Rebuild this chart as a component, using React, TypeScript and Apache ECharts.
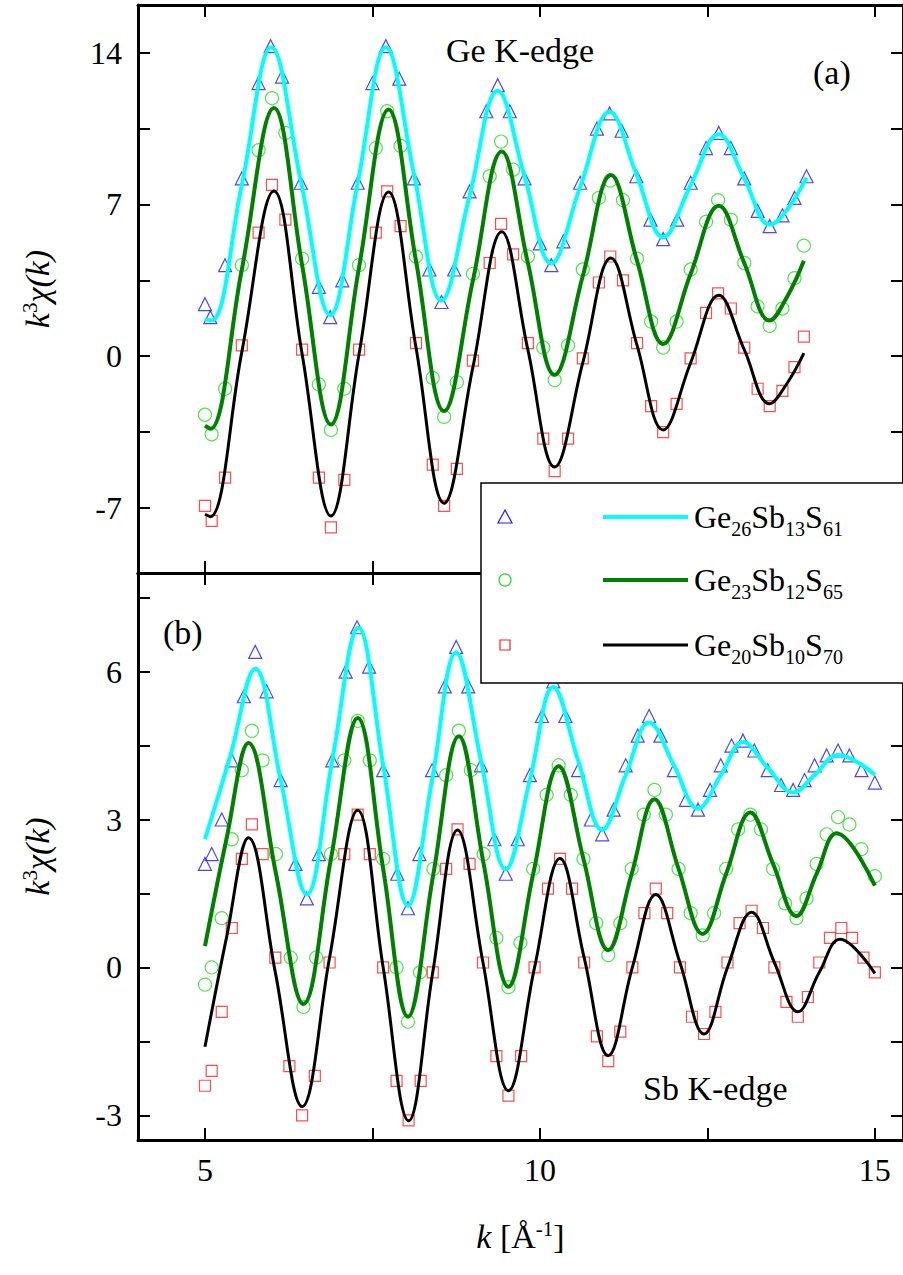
import * as echarts from 'echarts';
import { useEffect, useRef } from 'react';

type Pt = [number, number];

// k ticks
const kTicks = [5, 7.5, 10, 12.5, 15];
const kLabels = [5, 10, 15];
const topTicks = [-7, -3.5, 0, 3.5, 7, 10.5, 14];
const topLabels = [-7, 0, 7, 14];
const botTicks = [-3, -1.5, 0, 1.5, 3, 4.5, 6, 7.5];
const botLabels = [-3, 0, 3, 6];

const names = ['Ge26Sb13S61', 'Ge23Sb12S65', 'Ge20Sb10S70'];

// (a) Ge K-edge
const geFit26: Pt[] = [[5.0,1.7],[5.1,1.65],[5.55,7.9],[5.99,14.25],[6.43,8.1],[6.87,1.9],[7.28,8.0],[7.70,14.25],[8.12,8.4],[8.53,2.56],[8.95,7.4],[9.37,12.25],[9.77,8.3],[10.17,4.28],[10.6,7.8],[11.04,11.28],[11.44,8.4],[11.84,5.49],[12.25,7.9],[12.67,10.24],[13.05,8.2],[13.43,6.07],[13.98,8.24]];
const geExp26: Pt[] = [[5.0,2.4],[5.08,1.8],[5.3,4.2],[5.55,8.2],[5.8,12.6],[5.98,14.3],[6.15,12.9],[6.43,8.0],[6.7,3.2],[6.87,1.8],[7.05,3.5],[7.28,8.0],[7.5,12.6],[7.70,14.3],[7.9,12.8],[8.12,8.2],[8.35,4.0],[8.53,2.5],[8.72,4.0],[8.95,7.6],[9.2,11.3],[9.37,12.5],[9.55,11.3],[9.77,8.2],[10.0,5.2],[10.17,4.2],[10.35,5.3],[10.6,8.0],[10.85,10.5],[11.04,11.2],[11.22,10.4],[11.44,8.3],[11.65,6.3],[11.84,5.4],[12.05,6.3],[12.25,8.0],[12.48,9.6],[12.67,10.3],[12.85,9.6],[13.05,8.2],[13.25,6.7],[13.43,6.0],[13.62,6.5],[13.8,7.3],[13.98,8.3]];
const geFit23: Pt[] = [[5.0,-3.2],[5.08,-3.35],[5.55,4.0],[6.03,11.45],[6.45,4.2],[6.88,-3.15],[7.3,4.1],[7.74,11.38],[8.15,4.4],[8.57,-2.53],[9.0,3.5],[9.43,9.44],[9.82,4.3],[10.22,-0.86],[10.64,3.7],[11.06,8.36],[11.45,4.4],[11.84,0.56],[12.25,3.8],[12.67,6.94],[13.05,4.3],[13.43,1.65],[13.7,2.8],[13.94,4.4]];
const geExp23: Pt[] = [[5.0,-2.7],[5.1,-3.6],[5.3,-1.5],[5.55,4.2],[5.8,9.5],[6.0,11.9],[6.2,10.3],[6.45,4.5],[6.7,-1.3],[6.88,-3.4],[7.08,-1.5],[7.3,4.2],[7.55,9.6],[7.72,11.3],[7.92,9.7],[8.15,4.6],[8.4,-1.0],[8.57,-2.8],[8.76,-1.2],[9.0,3.8],[9.25,8.3],[9.42,9.9],[9.6,8.6],[9.82,4.6],[10.05,0.4],[10.22,-1.1],[10.42,0.5],[10.64,4.0],[10.88,7.3],[11.05,8.1],[11.24,7.2],[11.45,4.5],[11.66,1.6],[11.84,0.4],[12.04,1.6],[12.25,4.0],[12.48,6.2],[12.66,7.2],[12.85,6.3],[13.05,4.3],[13.25,2.3],[13.43,1.4],[13.62,2.2],[13.8,3.6],[13.94,5.1]];
const geFit20: Pt[] = [[5.0,-7.29],[5.08,-7.4],[5.55,0.2],[6.03,7.62],[6.45,0.1],[6.88,-7.37],[7.3,0.1],[7.74,7.57],[8.15,0.4],[8.57,-6.78],[9.0,-0.5],[9.43,5.74],[9.82,0.3],[10.22,-5.11],[10.64,-0.3],[11.06,4.53],[11.45,0.5],[11.84,-3.4],[12.25,-0.3],[12.67,2.81],[13.05,0.3],[13.43,-2.19],[13.7,-1.2],[13.94,0.14]];
const geExp20: Pt[] = [[5.0,-6.9],[5.1,-7.6],[5.3,-5.6],[5.55,0.5],[5.8,5.7],[6.0,7.9],[6.2,6.3],[6.45,0.3],[6.7,-5.6],[6.88,-7.9],[7.08,-5.7],[7.3,0.3],[7.55,5.7],[7.72,7.6],[7.92,6.0],[8.15,0.6],[8.4,-5.0],[8.57,-6.9],[8.76,-5.2],[9.0,-0.2],[9.25,4.3],[9.42,6.1],[9.6,4.7],[9.82,0.6],[10.05,-3.8],[10.22,-5.3],[10.42,-3.8],[10.64,-0.1],[10.88,3.4],[11.05,4.6],[11.24,3.5],[11.45,0.6],[11.66,-2.3],[11.84,-3.5],[12.04,-2.2],[12.25,-0.1],[12.48,2.0],[12.66,2.9],[12.85,2.2],[13.05,0.4],[13.25,-1.5],[13.43,-2.3],[13.62,-1.6],[13.8,-0.5],[13.94,0.9]];

// (b) Sb K-edge
const sbFit26: Pt[] = [[5.0,2.6],[5.38,4.3],[5.75,6.06],[6.13,3.8],[6.52,1.48],[6.9,4.2],[7.29,6.89],[7.66,4.1],[8.03,1.25],[8.39,3.8],[8.75,6.39],[9.12,4.2],[9.49,1.99],[9.85,3.8],[10.2,5.69],[10.57,4.2],[10.93,2.79],[11.28,3.9],[11.63,4.97],[12.0,4.1],[12.36,3.22],[12.7,3.9],[13.03,4.57],[13.4,4.05],[13.78,3.55],[14.1,3.9],[14.45,4.31],[15.0,3.91]];
const sbExp26: Pt[] = [[5.0,2.1],[5.1,2.3],[5.25,3.0],[5.4,4.2],[5.58,5.5],[5.75,6.4],[5.92,5.6],[6.13,3.8],[6.35,2.1],[6.52,1.4],[6.7,2.3],[6.9,4.2],[7.1,6.0],[7.27,6.9],[7.45,6.1],[7.66,4.0],[7.87,1.9],[8.03,1.2],[8.2,2.3],[8.39,4.0],[8.58,5.7],[8.75,6.5],[8.93,5.7],[9.12,4.1],[9.32,2.6],[9.49,1.9],[9.67,2.6],[9.85,3.9],[10.03,5.1],[10.2,5.8],[10.38,5.1],[10.57,4.0],[10.76,3.0],[10.93,2.7],[11.1,3.2],[11.28,4.1],[11.46,4.7],[11.63,5.1],[11.8,4.7],[12.0,4.0],[12.18,3.4],[12.36,3.2],[12.54,3.6],[12.7,4.1],[12.86,4.5],[13.03,4.6],[13.2,4.4],[13.4,4.0],[13.6,3.7],[13.78,3.6],[13.95,3.8],[14.1,4.1],[14.28,4.3],[14.45,4.4],[14.62,4.3],[14.8,4.0],[15.0,3.75]];
const sbFit23: Pt[] = [[5.0,0.43],[5.32,2.6],[5.65,4.55],[6.06,1.9],[6.47,-0.74],[6.88,2.2],[7.28,5.06],[7.66,2.0],[8.03,-1.0],[8.41,1.9],[8.79,4.69],[9.16,2.1],[9.53,-0.39],[9.9,1.9],[10.28,4.08],[10.65,2.2],[11.02,0.35],[11.37,1.9],[11.71,3.41],[12.07,2.0],[12.43,0.68],[12.78,1.9],[13.14,3.14],[13.48,2.1],[13.83,1.04],[14.13,1.9],[14.43,2.72],[15.0,1.66]];
const sbExp23: Pt[] = [[5.0,-0.35],[5.1,0.0],[5.25,1.0],[5.4,2.6],[5.55,4.0],[5.7,4.8],[5.86,4.2],[6.06,2.3],[6.28,0.2],[6.47,-0.8],[6.66,0.2],[6.88,2.3],[7.08,4.2],[7.28,5.0],[7.46,4.2],[7.66,2.2],[7.86,0.0],[8.03,-1.1],[8.21,-0.1],[8.41,2.0],[8.6,3.9],[8.79,4.8],[8.97,4.0],[9.16,2.3],[9.35,0.6],[9.53,-0.4],[9.71,0.5],[9.9,2.0],[10.1,3.5],[10.28,4.1],[10.46,3.5],[10.65,2.2],[10.84,0.9],[11.02,0.25],[11.2,0.9],[11.37,2.0],[11.55,3.1],[11.71,3.6],[11.88,3.1],[12.07,2.0],[12.25,1.1],[12.43,0.65],[12.6,1.1],[12.78,2.0],[12.96,2.8],[13.14,3.1],[13.3,2.8],[13.48,2.0],[13.66,1.3],[13.83,1.0],[13.98,1.4],[14.13,2.1],[14.28,2.7],[14.45,3.05],[14.62,2.9],[14.8,2.4],[15.0,1.85]];
const sbFit20: Pt[] = [[5.0,-1.61],[5.32,0.6],[5.65,2.63],[6.05,-0.1],[6.45,-2.82],[6.86,0.2],[7.28,3.19],[7.66,0.0],[8.04,-3.11],[8.4,-0.1],[8.77,2.79],[9.15,0.1],[9.53,-2.5],[9.92,0.0],[10.3,2.21],[10.66,0.2],[11.02,-1.79],[11.38,0.0],[11.73,1.48],[12.09,0.1],[12.45,-1.35],[12.8,0.0],[13.16,1.12],[13.5,0.1],[13.85,-0.9],[14.17,-0.1],[14.48,0.57],[15.0,-0.12]];
const sbExp20: Pt[] = [[5.0,-2.4],[5.1,-2.1],[5.25,-0.9],[5.4,0.8],[5.55,2.2],[5.7,2.9],[5.86,2.3],[6.05,0.2],[6.26,-2.0],[6.45,-3.0],[6.64,-2.2],[6.86,0.1],[7.08,2.3],[7.28,3.1],[7.46,2.3],[7.66,0.0],[7.86,-2.3],[8.04,-3.1],[8.22,-2.3],[8.4,-0.1],[8.6,2.0],[8.77,2.8],[8.95,2.1],[9.15,0.1],[9.35,-1.8],[9.53,-2.6],[9.72,-1.8],[9.92,0.0],[10.12,1.6],[10.3,2.2],[10.48,1.6],[10.66,0.1],[10.85,-1.4],[11.02,-1.9],[11.2,-1.3],[11.38,0.0],[11.56,1.1],[11.73,1.6],[11.9,1.1],[12.09,0.0],[12.27,-1.0],[12.45,-1.35],[12.62,-0.9],[12.8,0.1],[12.98,0.9],[13.16,1.15],[13.33,0.8],[13.5,0.0],[13.68,-0.7],[13.85,-1.0],[14.0,-0.6],[14.17,0.1],[14.33,0.6],[14.5,0.8],[14.66,0.6],[14.83,0.2],[15.0,-0.1]];

const FONT = 'serif';
const markStyle = [
  { symbol: 'triangle', color: '#1a1aff', size: 13 },
  { symbol: 'circle', color: '#22dd22', size: 13 },
  { symbol: 'rect', color: '#ff2020', size: 11 },
];
const lineColors = ['#00ffff', '#008000', '#000000'];

const kAxis = (grid: number, pos: 'top' | 'bottom', labels: boolean) => ({
  type: 'value', gridIndex: grid, position: pos, min: 4, max: 15.42,
  axisLine: { show: true, onZero: false, lineStyle: { color: '#000', width: 3 } },
  axisTick: { show: true, inside: true, length: 12, lineStyle: { width: 2, color: '#000' }, customValues: kTicks },
  axisLabel: { show: labels, fontFamily: FONT, fontSize: 32, color: '#000', margin: 14, customValues: kLabels },
  splitLine: { show: false },
  ...(labels && grid === 1 ? {
    name: '{i|k} [Å{s|-1}]', nameLocation: 'middle', nameGap: 78,
    nameTextStyle: { fontFamily: FONT, fontSize: 34, color: '#000', rich: {
      i: { fontFamily: FONT, fontSize: 34, fontStyle: 'italic' },
      s: { fontFamily: FONT, fontSize: 21, padding: [0, 0, 16, 0] } } },
  } : {}),
});

const yAxis = (grid: number, pos: 'left' | 'right', min: number, max: number, ticks: number[], labels: number[]) => ({
  type: 'value', gridIndex: grid, position: pos, min, max,
  axisLine: { show: true, onZero: false, lineStyle: { color: '#000', width: 3 } },
  axisTick: { show: true, inside: true, length: 12, lineStyle: { width: 2, color: '#000' }, customValues: ticks },
  axisLabel: { show: pos === 'left', fontFamily: FONT, fontSize: 32, color: '#000', margin: 16, customValues: labels },
  splitLine: { show: false },
  ...(pos === 'left' ? {
    name: '{i|k}{s|3}{i|χ(k)}', nameLocation: 'middle', nameGap: 82, nameRotate: 90,
    nameTextStyle: { fontFamily: FONT, fontSize: 34, color: '#000', rich: {
      i: { fontFamily: FONT, fontSize: 34, fontStyle: 'italic' },
      s: { fontFamily: FONT, fontSize: 21, padding: [0, 0, 16, 0] } } },
  } : {}),
});

export default function App() {
  const ref = useRef<HTMLDivElement>(null);

  useEffect(() => {
    if (!ref.current) return;
    document.body.style.margin = '0';
    const chart = echarts.init(ref.current, undefined, { renderer: 'svg' });

    const panels = [
      { fits: [geFit26, geFit23, geFit20], exps: [geExp26, geExp23, geExp20] },
      { fits: [sbFit26, sbFit23, sbFit20], exps: [sbExp26, sbExp23, sbExp20] },
    ];
    const series: any[] = [];
    panels.forEach((p, g) => {
      p.exps.forEach((d, i) => series.push({
        type: 'scatter', name: names[i], xAxisIndex: g * 2, yAxisIndex: g * 2, data: d,
        symbol: markStyle[i].symbol, symbolSize: markStyle[i].size,
        itemStyle: { color: 'transparent', borderColor: markStyle[i].color, borderWidth: 1.2 },
      }));
      p.fits.forEach((d, i) => series.push({
        type: 'line', xAxisIndex: g * 2, yAxisIndex: g * 2, data: d,
        smooth: 0.4, showSymbol: false,
        lineStyle: { color: lineColors[i], width: i === 2 ? 3 : 4 }, z: 3,
      }));
    });

    const legendRows = [517, 580, 645];
    const sub = (a: string, b: string, c: string) => `Ge{s|${a}}Sb{s|${b}}S{s|${c}}`;
    const subs = [['26', '13', '61'], ['23', '12', '65'], ['20', '10', '70']];
    const graphic: any[] = [
      { type: 'rect', shape: { x: 481, y: 483, width: 430, height: 200 }, style: { fill: '#fff', stroke: '#000', lineWidth: 1.5 }, z: 10 },
      { type: 'text', x: 446, y: 50, style: { text: 'Ge K-edge', font: `34px ${FONT}`, fill: '#000', verticalAlign: 'middle' }, z: 10 },
      { type: 'text', x: 813, y: 72, style: { text: '(a)', font: `34px ${FONT}`, fill: '#000', verticalAlign: 'middle' }, z: 10 },
      { type: 'text', x: 163, y: 632, style: { text: '(b)', font: `34px ${FONT}`, fill: '#000', verticalAlign: 'middle' }, z: 10 },
      { type: 'text', x: 643, y: 1088, style: { text: 'Sb K-edge', font: `34px ${FONT}`, fill: '#000', verticalAlign: 'middle' }, z: 10 },
    ];
    legendRows.forEach((y, i) => {
      const c = markStyle[i].color;
      if (i === 0) graphic.push({ type: 'polygon', shape: { points: [[505, y - 7], [498, y + 6], [512, y + 6]] }, style: { fill: 'none', stroke: c, lineWidth: 1.2 }, z: 11 });
      if (i === 1) graphic.push({ type: 'circle', shape: { cx: 505, cy: y, r: 6 }, style: { fill: 'none', stroke: c, lineWidth: 1.2 }, z: 11 });
      if (i === 2) graphic.push({ type: 'rect', shape: { x: 500, y: y - 5, width: 10, height: 10 }, style: { fill: 'none', stroke: c, lineWidth: 1.2 }, z: 11 });
      graphic.push({ type: 'line', shape: { x1: 603, y1: y, x2: 688, y2: y }, style: { stroke: lineColors[i], lineWidth: i === 2 ? 3 : 4 }, z: 11 });
      graphic.push({ type: 'text', x: 694, y: y, z: 11, style: {
        text: sub(subs[i][0], subs[i][1], subs[i][2]), font: `32px ${FONT}`, fill: '#000', verticalAlign: 'middle',
        rich: { s: { font: `20px ${FONT}`, fill: '#000', padding: [24, 0, 0, 0] } } } });
    });

    chart.setOption({
      animation: false,
      backgroundColor: '#fff',
      textStyle: { fontFamily: FONT },
      grid: [
        { left: 138, top: 5, width: 780, height: 568 },
        { left: 138, top: 573, width: 780, height: 567 },
      ],
      xAxis: [kAxis(0, 'bottom', false), kAxis(0, 'top', false), kAxis(1, 'bottom', true), kAxis(1, 'top', false)],
      yAxis: [
        yAxis(0, 'left', -10, 16.2, topTicks, topLabels), yAxis(0, 'right', -10, 16.2, topTicks, topLabels),
        yAxis(1, 'left', -3.5, 8, botTicks, botLabels), yAxis(1, 'right', -3.5, 8, botTicks, botLabels),
      ],
      series,
      graphic,
    });

    return () => chart.dispose();
  }, []);

  return <div ref={ref} style={{ width: 903, height: 1275 }} />;
}
